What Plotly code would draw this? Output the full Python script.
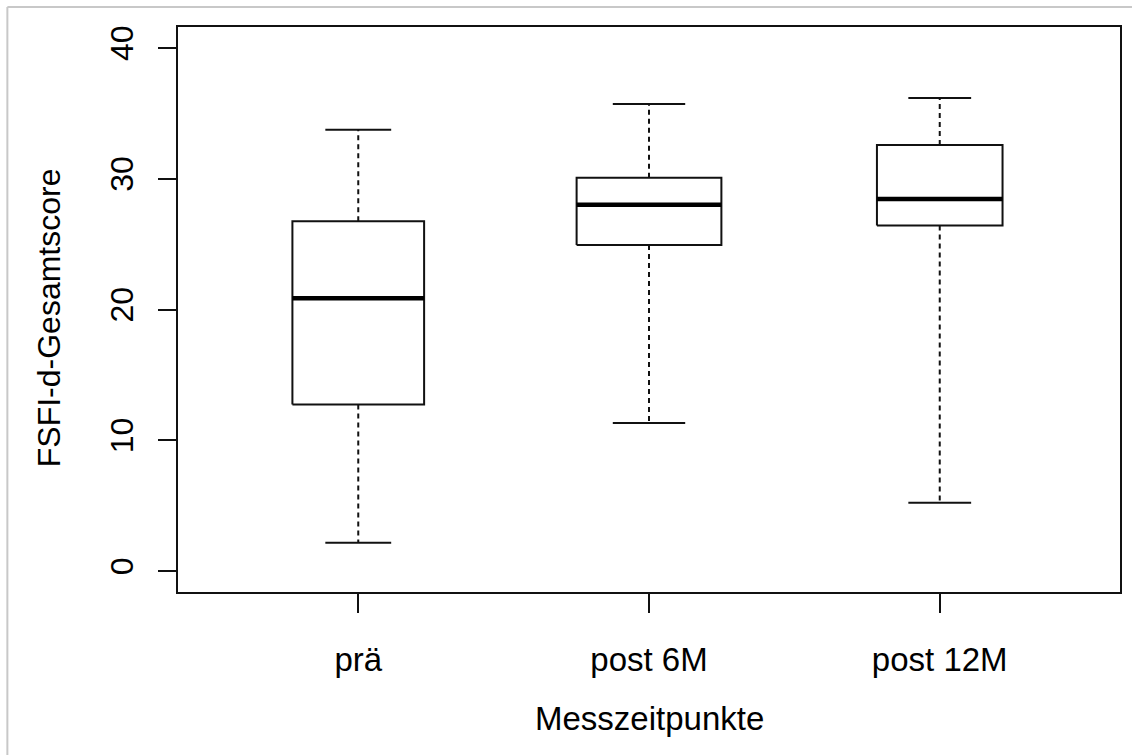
import plotly.graph_objects as go

# ---- data ----
categories = ["prä", "post 6M", "post 12M"]
lower_whisker = [2.16, 11.33, 5.22]
q1 = [12.73, 24.93, 26.43]
median = [20.86, 28.0, 28.44]
q3 = [26.74, 30.07, 32.57]
upper_whisker = [33.74, 35.72, 36.18]
box_widths = [0.453, 0.498, 0.432]
y_ticks = [0, 10, 20, 30, 40]

FONT = "Liberation Sans, Arial, sans-serif"
LINE = "#111111"

fig = go.Figure()
for i, cat in enumerate(categories):
    c = i + 1
    w = box_widths[i]
    # box
    fig.add_trace(go.Scatter(
        x=[c - w / 2, c + w / 2, c + w / 2, c - w / 2, c - w / 2],
        y=[q1[i], q1[i], q3[i], q3[i], q1[i]],
        mode="lines", line=dict(color=LINE, width=2),
        fill="toself", fillcolor="white", hoverinfo="skip", showlegend=False))
    # median
    fig.add_trace(go.Scatter(
        x=[c - w / 2, c + w / 2], y=[median[i], median[i]],
        mode="lines", line=dict(color="black", width=4.5),
        hoverinfo="skip", showlegend=False))
    # whiskers (dashed)
    fig.add_trace(go.Scatter(
        x=[c, c, None, c, c],
        y=[q3[i], upper_whisker[i], None, q1[i], lower_whisker[i]],
        mode="lines", line=dict(color=LINE, width=2, dash="5px,4px"),
        hoverinfo="skip", showlegend=False))
    # caps
    fig.add_trace(go.Scatter(
        x=[c - w / 4, c + w / 4, None, c - w / 4, c + w / 4],
        y=[upper_whisker[i], upper_whisker[i], None, lower_whisker[i], lower_whisker[i]],
        mode="lines", line=dict(color=LINE, width=2),
        hoverinfo="skip", showlegend=False))

L, R, T, B = 178, 12, 27, 163
W, H = 1134, 755
pw, ph = W - L - R, H - T - B

fig.update_layout(
    width=W, height=H,
    margin=dict(l=L, r=R, t=T, b=B),
    paper_bgcolor="white", plot_bgcolor="white",
    font=dict(family=FONT, size=32, color="black"),
    showlegend=False,
    xaxis=dict(
        range=[0.38, 3.62], tickvals=[1, 2, 3], ticktext=categories,
        ticks="outside", ticklen=19, tickwidth=2, tickcolor=LINE,
        showgrid=False, zeroline=False,
        showline=True, linecolor=LINE, linewidth=2, mirror=True,
        tickfont=dict(size=33, family=FONT), ticklabelstandoff=18,
    ),
    yaxis=dict(
        range=[-1.6, 41.6], tickvals=y_ticks,
        ticks="outside", ticklen=18, tickwidth=2, tickcolor=LINE,
        showgrid=False, zeroline=False,
        showline=True, linecolor=LINE, linewidth=2, mirror=True,
        tickangle=-90, tickfont=dict(size=32, family=FONT), ticklabelstandoff=12,
    ),
    annotations=[
        dict(text="FSFI-d-Gesamtscore", xref="paper", yref="paper",
             x=(49 - L) / pw, y=0.485, xanchor="center", yanchor="middle",
             textangle=-90, showarrow=False, font=dict(size=32, family=FONT)),
        dict(text="Messzeitpunkte", xref="paper", yref="paper",
             x=0.5, y=(H - B - 718) / ph,
             xanchor="center", yanchor="middle",
             showarrow=False, font=dict(size=33, family=FONT)),
    ],
    shapes=[
        dict(type="line", xref="paper", yref="paper",
             x0=(7 - L) / pw, x1=(W - L) / pw, y0=(H - B - 7) / ph, y1=(H - B - 7) / ph,
             line=dict(color="#c8c8c8", width=2)),
        dict(type="line", xref="paper", yref="paper",
             x0=(7 - L) / pw, x1=(7 - L) / pw, y0=(H - B - 7) / ph, y1=(H - B - H) / ph,
             line=dict(color="#c8c8c8", width=2)),
    ],
)

fig.write_html("out.html")
